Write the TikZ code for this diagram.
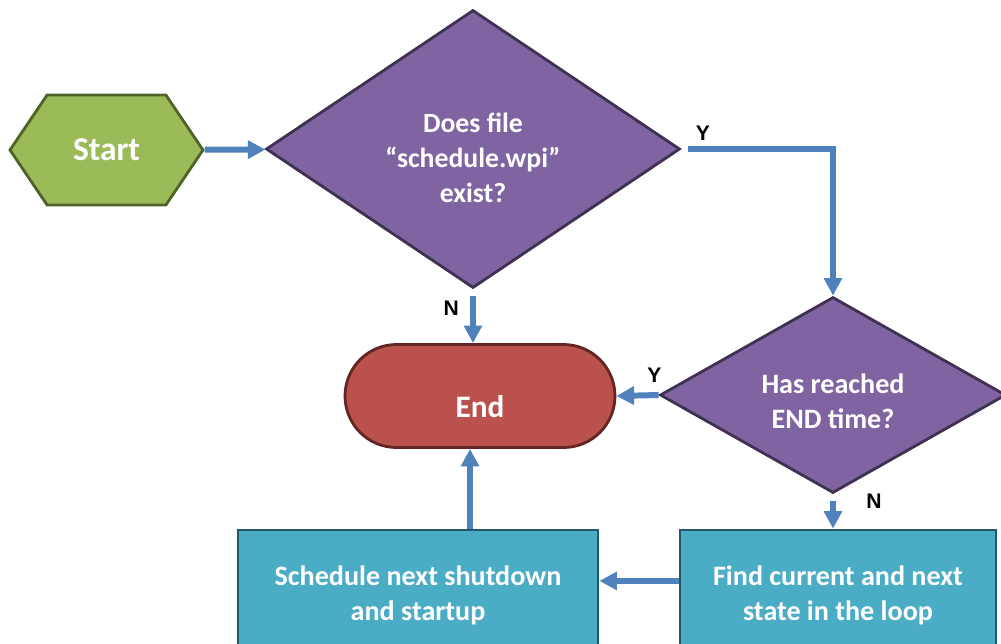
\documentclass[tikz,border=0pt]{standalone}
\usepackage{fontspec}
\setmainfont{Carlito}
\newfontfamily\labelfont{Liberation Sans}
\usetikzlibrary{shapes.geometric,shapes.symbols,arrows.meta}

\definecolor{startgreen}{HTML}{9BBB59}
\definecolor{startline}{HTML}{4F6228}
\definecolor{askpurple}{HTML}{8064A2}
\definecolor{askline}{HTML}{3F3151}
\definecolor{endred}{HTML}{BA514C}
\definecolor{endline}{HTML}{632523}
\definecolor{steppetrol}{HTML}{4BACC6}
\definecolor{stepline}{HTML}{215968}
\definecolor{flowblue}{HTML}{4F81BD}

\begin{document}
\begin{tikzpicture}[
    every node/.style={font=\bfseries\fontsize{16}{20}\selectfont, text=white, align=center},
    border/.style={draw, line width=1.6pt},
    flow/.style={draw=flowblue, line width=3.4pt, -{Triangle[length=10pt,width=10pt]}},
    yn/.style={text=black, font=\labelfont\bfseries\fontsize{12}{14}\selectfont}
  ]
                    \useasboundingbox (0, 0) rectangle (20.02, -12.86);

                    \node (start) at (2.13, -3.0) [signal, signal to=west and east, signal pointer angle=112,
                        minimum width=3.86cm, minimum height=2.2cm, inner sep=0pt,
                        font=\bfseries\fontsize{19}{22}\selectfont,
                        border, draw=startline, fill=startgreen] {Start};
                    \node (askfile) at (9.46, -2.98) [diamond, aspect=1.5, inner sep=0pt,
                        minimum width=8.28cm, minimum height=5.56cm, text height=61pt, text depth=0pt,
                        font=\bfseries\fontsize{15.8}{20}\selectfont,
                        border, draw=askline, fill=askpurple] {Does file\\“schedule.wpi”\\exist?};
                    \node (asktime) at (16.66, -7.9) [diamond, aspect=1.7, inner sep=0pt,
                        minimum width=6.92cm, minimum height=3.92cm, text height=38pt, text depth=0pt,
                        border, draw=askline, fill=askpurple] {Has reached\\END time?};
                    \node (end) at (9.6, -7.92) [rectangle, rounded corners=1.03cm,
                        minimum width=5.4cm, minimum height=2.06cm, text height=25pt, text depth=0pt,
                        font=\bfseries\fontsize{17.8}{20}\selectfont,
                        border, draw=endline, fill=endred] {End};
                    \node (findstate) at (16.76, -11.9) [rectangle, minimum width=6.32cm, minimum height=2.6cm,
                        border, draw=stepline, fill=steppetrol] {Find current and next\\state in the loop};
                    \node (schedule) at (8.36, -11.9) [rectangle, minimum width=7.2cm, minimum height=2.6cm,
                        border, draw=stepline, fill=steppetrol] {Schedule next shutdown\\and startup};

                    \draw[flow] (start) -- (askfile);
                    \draw[flow] ([xshift=4pt]askfile.east) -| (asktime.north)
                        node[pos=0.05, above, yn] {Y};
                    \draw[flow] ([yshift=-4pt]askfile.south) -- (askfile.south |- end.north)
                        node[pos=0.25, left=3pt, yn] {N};
                    \draw[flow] (asktime.west) -- (end.east)
                        node[pos=0.1, above=2pt, yn] {Y};
                    \draw[flow] ([yshift=-4pt]asktime.south) -- (asktime.south |- findstate.north)
                        node[pos=0.0, right=14pt, yn] {N};
                    \draw[flow] ([yshift=8pt]findstate.west) -- ([yshift=8pt]schedule.east);
                    \draw[flow] ([xshift=-0.2cm]end.south |- schedule.north) -- ([xshift=-0.2cm]end.south);
                \end{tikzpicture}
\end{document}
